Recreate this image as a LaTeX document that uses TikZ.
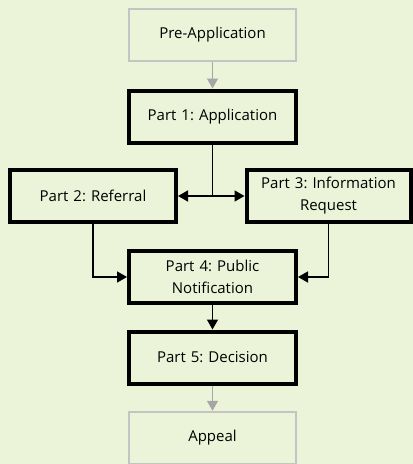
\documentclass[tikz,border=0pt]{standalone}
\usepackage{fontspec}
\setmainfont{Open Sans}
\usetikzlibrary{arrows.meta, positioning, calc}
\definecolor{bgpale}{HTML}{EBF4D8}
\definecolor{boxgray}{HTML}{C4C4C4}
\definecolor{arrgray}{HTML}{A6A6A6}
\frenchspacing

\begin{document}
\begin{tikzpicture}[x=1pt,y=-1pt,align=center,font=\fontsize{15}{22}\selectfont]
\tikzstyle{part}=[rectangle,draw=black,line width=4pt,minimum width=167pt,minimum height=52pt,inner sep=1pt,text width=162pt]
\tikzstyle{extra}=[rectangle,draw=boxgray,line width=2.5pt,minimum width=167pt,minimum height=52pt,inner sep=1pt,text width=162pt]
\tikzstyle{flow}=[-{Triangle[length=10pt,width=11pt]},line width=1.5pt]
\tikzstyle{side}=[-{Triangle[length=10pt,width=11pt]},line width=1.5pt,draw=arrgray,fill=arrgray]

\useasboundingbox (0,0) rectangle (413,464);
\clip (0,0) rectangle (413,464);
\fill[bgpale] (0,0) rectangle (413,464);

\node[extra] (pre) at (212.5,35) {Pre-Application};
\node[part] (p1) at (212.5,116.5) {Part 1: Application};
\node[part,minimum width=166pt] (p2) at (93,196) {Part 2: Referral};
\node[part,minimum width=163pt] (p3) at (328.5,196) {Part 3: Information\\Request};
\node[part] (p4) at (212.5,277) {Part 4: Public\\Notification};
\node[part] (p5) at (212.5,357.5) {Part 5: Decision};
\node[extra] (appeal) at (212.5,438) {Appeal};

\coordinate (split) at (p1.south |- p2.east);

\draw[side] (pre) -- (p1);
\draw[line width=1.5pt] (p1) -- (split);
\draw[flow] (split) -- (p2);
\draw[flow] (split) -- (p3);
\draw[flow] (p2.south) |- (p4.west);
\draw[flow] (p3.south) |- (p4.east);
\draw[flow] (p4) -- (p5);
\draw[side] (p5) -- (appeal);
\end{tikzpicture}
\end{document}
